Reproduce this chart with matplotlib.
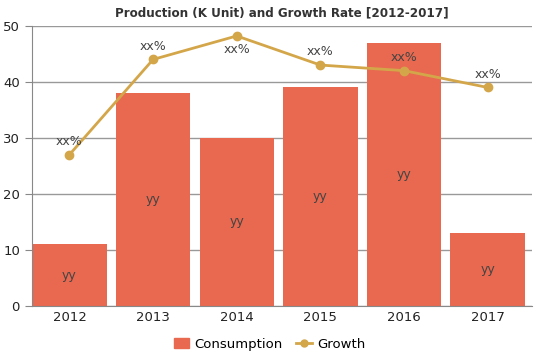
import numpy as np
import matplotlib.pyplot as plt
from matplotlib.lines import Line2D
from matplotlib.patches import Patch

years = ['2012', '2013', '2014', '2015', '2016', '2017']
consumption = [11, 38, 30, 39, 47, 13]
growth = [27, 44, 48.2, 43, 42, 39]
bar_labels = ['yy'] * 6
growth_labels = ['xx%'] * 6

bar_color = '#E8694F'
line_color = '#D4A64A'

fig = plt.figure(figsize=(5.39, 3.59), dpi=100)
ax = fig.add_axes([0.059, 0.148, 0.928, 0.78])

x = np.arange(len(years))
ax.bar(x, consumption, width=0.89, color=bar_color, zorder=2)
ax.plot(x, growth, color=line_color, linewidth=2, marker='o', markersize=6, zorder=3)

for xi, v, lab in zip(x, consumption, bar_labels):
    ax.text(xi, v / 2, lab, ha='center', va='center', fontsize=9, color='#444444', zorder=4)
for xi, g, lab in zip(x, growth, growth_labels):
    if g > 47:
        ax.text(xi, g - 1.2, lab, ha='center', va='top', fontsize=9, color='#444444', zorder=4)
    else:
        ax.text(xi, g + 1.2, lab, ha='center', va='bottom', fontsize=9, color='#444444', zorder=4)

ax.set_xlim(-0.45, 5.53)
ax.set_ylim(0, 50)
ax.set_yticks([0, 10, 20, 30, 40, 50])
ax.set_xticks(x)
ax.set_xticklabels(years)
ax.tick_params(axis='both', labelsize=9.5, colors='#222222', length=0)
ax.tick_params(axis='y', length=5, color='#888888')
ax.grid(axis='y', color='#999999', linewidth=1, zorder=0)
for side in ['top', 'right']:
    ax.spines[side].set_visible(False)
ax.spines['left'].set_color('#888888')
ax.spines['bottom'].set_color('#888888')

ax.set_title('Production (K Unit) and Growth Rate [2012-2017]', fontsize=9.5,
             fontweight='black', fontstretch='condensed', color='#333333', pad=7)

handles = [Patch(color=bar_color, label='Consumption'),
           Line2D([0], [0], color=line_color, linewidth=2, marker='o', markersize=5, label='Growth')]
fig.legend(handles=handles, loc='lower center', bbox_to_anchor=(0.5, -0.01), ncol=2,
           frameon=False, fontsize=9.5, handlelength=1.2, handletextpad=0.4, columnspacing=1.0)

fig.savefig('out.png', dpi=100)
